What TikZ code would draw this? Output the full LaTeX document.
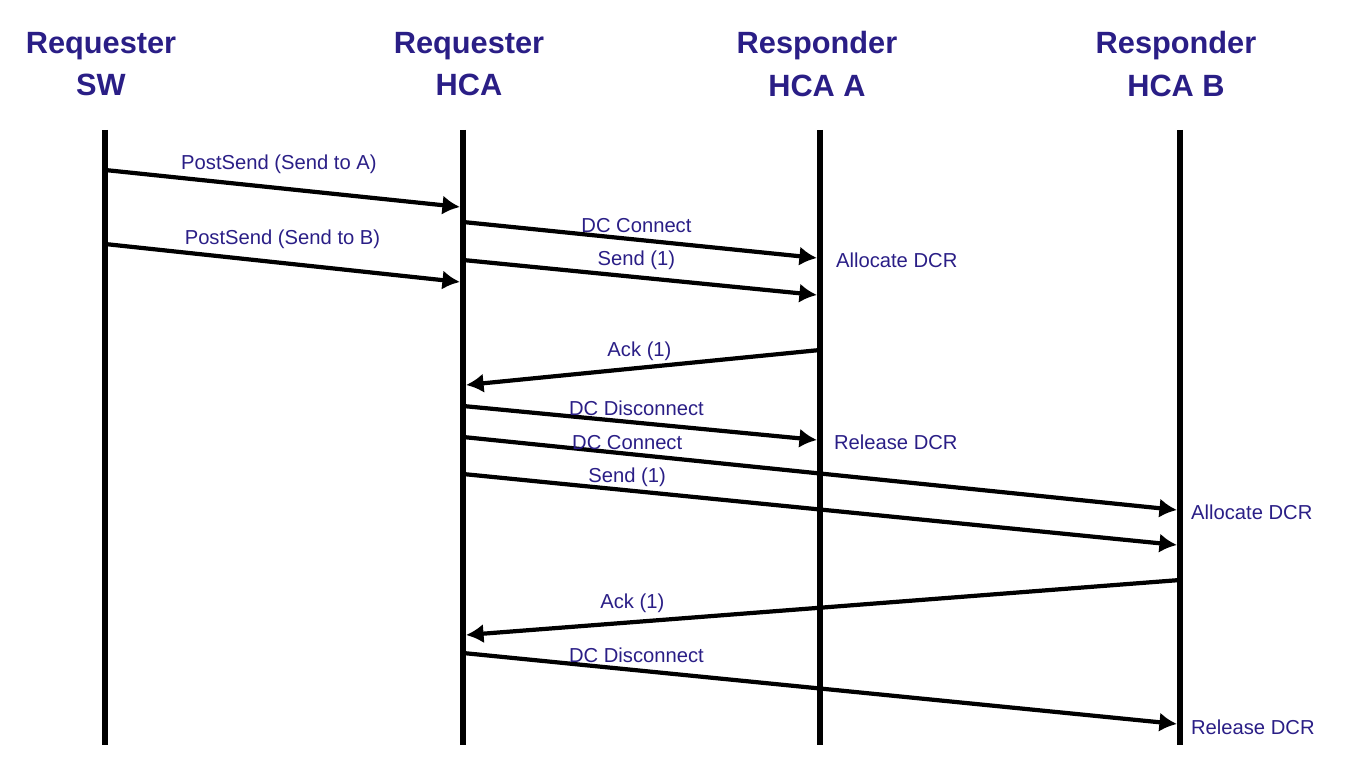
\documentclass[tikz,border=0pt]{standalone}
\usepackage{fontspec}
\setmainfont{Liberation Sans}
\usetikzlibrary{arrows.meta, positioning}
\definecolor{labelblue}{HTML}{2A1E86}
\tikzstyle{lifeline} = [line width=3.3pt]
\tikzstyle{msg} = [line width=2.4pt,-{Latex[length=10pt,width=11pt]}]
\tikzstyle{head} = [font=\fontsize{17.5}{24}\selectfont\bfseries, text=labelblue, align=center]
\tikzstyle{lbl} = [font=\fontsize{11.5}{13}\selectfont, text=labelblue, inner sep=1pt]
\tikzstyle{side} = [lbl, anchor=west]

\begin{document}
\begin{tikzpicture}[x=0.02cm, y=-0.02cm]
        \useasboundingbox (0,0) rectangle (1350,760);

        % Headers
        \node[head] (sw) at (101,64) {Requester\\SW};
        \node[head] (hca) at (469,64) {Requester\\HCA};
        \node[head] (hcaa) at (817,64) {Responder\\HCA A};
        \node[head] (hcab) at (1176,64) {Responder\\HCA B};

        % Lifelines
        \coordinate (swtop) at (105,130);
        \coordinate (swbot) at (105,745);
        \coordinate (hcatop) at (463,130);
        \coordinate (hcabot) at (463,745);
        \coordinate (atop) at (820,130);
        \coordinate (abot) at (820,745);
        \coordinate (btop) at (1180,130);
        \coordinate (bbot) at (1180,745);
        \draw[lifeline] (swtop) -- (swbot);
        \draw[lifeline] (hcatop) -- (hcabot);
        \draw[lifeline] (atop) -- (abot);
        \draw[lifeline] (btop) -- (bbot);

        % Message end points
        \coordinate (sw1) at (105,170);   \coordinate (hca1) at (460,207);
        \coordinate (sw2) at (105,244);   \coordinate (hca2) at (460,282);
        \coordinate (hca3) at (463,222);  \coordinate (a3) at (817,258);
        \coordinate (hca4) at (463,260);  \coordinate (a4) at (817,295);
        \coordinate (a5) at (820,350);    \coordinate (hca5) at (466,385);
        \coordinate (hca6) at (463,406);  \coordinate (a6) at (817,440);
        \coordinate (hca7) at (463,437);  \coordinate (b7) at (1177,510);
        \coordinate (hca8) at (463,474);  \coordinate (b8) at (1177,545);
        \coordinate (b9) at (1180,580);   \coordinate (hca9) at (466,635);
        \coordinate (hca10) at (463,653); \coordinate (b10) at (1177,724);

        % Messages
        \draw[msg] (sw1) -- node[lbl, above=6pt, pos=0.49] {PostSend (Send to A)} (hca1);
        \draw[msg] (sw2) -- node[lbl, above=6pt, pos=0.5] {PostSend (Send to B)} (hca2);
        \draw[msg] (hca3) -- node[lbl, above=2pt, pos=0.49] {DC Connect} (a3);
        \draw[msg] (hca4) -- node[lbl, above=2pt, pos=0.49] {Send (1)} (a4);
        \draw[msg] (a5) -- node[lbl, above=2pt, pos=0.51] {Ack (1)} (hca5);
        \draw[msg] (hca6) -- node[lbl, above=2pt, pos=0.49] {DC Disconnect} (a6);
        \draw[msg] (hca7) -- node[lbl, above=0pt, pos=0.23] {DC Connect} (b7);
        \draw[msg] (hca8) -- node[lbl, above=0pt, pos=0.23] {Send (1)} (b8);
        \draw[msg] (b9) -- node[lbl, above=3pt, pos=0.767] {Ack (1)} (hca9);
        \draw[msg] (hca10) -- node[lbl, above=2pt, pos=0.243] {DC Disconnect} (b10);

        % Responder actions
        \node[side] (alloca) at (834,260) {Allocate DCR};
        \node[side] (rela) at (832,442) {Release DCR};
        \node[side] (allocb) at (1189,512) {Allocate DCR};
        \node[side] (relb) at (1189,727) {Release DCR};
    \end{tikzpicture}
\end{document}
